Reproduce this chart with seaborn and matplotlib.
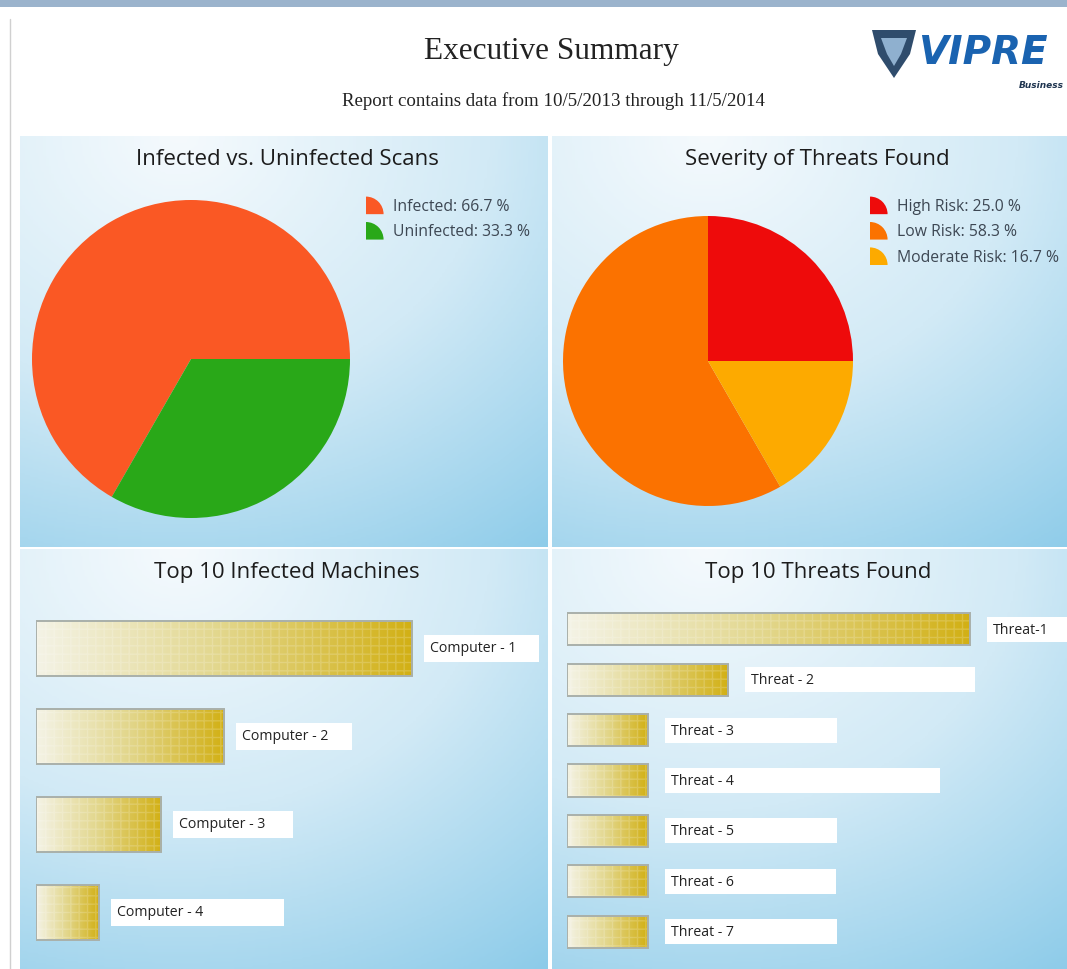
import numpy as np
import matplotlib
matplotlib.use("Agg")
import matplotlib.pyplot as plt
import seaborn as sns
from matplotlib.patches import Wedge, Rectangle, Polygon
from matplotlib.legend_handler import HandlerPatch
from matplotlib.colors import LinearSegmentedColormap

# ---- data ----
scan_labels = ["Infected", "Uninfected"]
scan_pct = [66.7, 33.3]
scan_colors = ["#fa5824", "#29a818"]

severity_labels = ["High Risk", "Low Risk", "Moderate Risk"]
severity_pct = [25.0, 58.3, 16.7]
severity_colors = ["#ee0b0b", "#fb7200", "#fdaa00"]

machine_names = ["Computer - 1", "Computer - 2", "Computer - 3", "Computer - 4"]
machine_counts = [6, 3, 2, 1]

threat_names = ["Threat-1", "Threat - 2", "Threat - 3", "Threat - 4",
                "Threat - 5", "Threat - 6", "Threat - 7"]
threat_counts = [5, 2, 1, 1, 1, 1, 1]

# white label strips behind the names (pixel widths, as in the screenshot)
machine_box_w = [115, 116, 120, 173]
threat_box_w = [95, 230, 172, 275, 172, 171, 172]

sns.set_style("white")
plt.rcParams["font.family"] = ["Open Sans", "DejaVu Sans"]

W, H = 1067, 970
fig = plt.figure(figsize=(W / 100, H / 100), dpi=100)
fig.patch.set_facecolor("white")


def px_axes(x0, y0, x1, y1):
    return fig.add_axes([x0 / W, 1 - y1 / H, (x1 - x0) / W, (y1 - y0) / H])


bg_cmap = LinearSegmentedColormap.from_list("bg", ["#f5fafd", "#d2eaf6", "#8ccbe9"])
bar_cmap = LinearSegmentedColormap.from_list("bar", ["#f4f3e6", "#e2d68a", "#d2b014"])


def panel(x0, y0, x1, y1, title, title_x):
    ax = px_axes(x0, y0, x1, y1)
    w, h = x1 - x0, y1 - y0
    yy, xx = np.mgrid[0:1:200j, 0:1:200j]
    d = np.sqrt(((xx - 0.3) * w / 500) ** 2 + (yy * h / 420) ** 2)
    grad = np.clip(d / 1.25, 0, 1)
    ax.imshow(grad, cmap=bg_cmap, extent=(0, w, 0, h), aspect="auto",
              origin="upper", zorder=0, vmin=0, vmax=1)
    ax.text(title_x - x0, h - 23, title, ha="center", va="center",
            fontsize=16, color="#1c1c1c")
    ax.set_xlim(0, w)
    ax.set_ylim(0, h)
    ax.axis("off")
    return ax


class HandlerQuarter(HandlerPatch):
    def create_artists(self, legend, orig_handle, xdescent, ydescent,
                       width, height, fontsize, trans):
        r = height * 1.6
        wdg = Wedge((-xdescent, -ydescent - 3), r, 0, 90,
                    facecolor=orig_handle.get_facecolor(), edgecolor="none",
                    transform=trans)
        return [wdg]


def pie_panel(x0, y0, x1, y1, title, title_x, values, labels, colors,
              cx, cy, r, leg_x, leg_y):
    ax = panel(x0, y0, x1, y1, title, title_x)
    h = y1 - y0
    wedges, _ = ax.pie(values, colors=colors, startangle=0, counterclock=True,
                       center=(cx - x0, y1 - cy), radius=r,
                       wedgeprops=dict(linewidth=0))
    ax.set_aspect("auto")
    ax.set_xlim(0, x1 - x0)
    ax.set_ylim(0, h)
    ax.legend(wedges, [f"{l}: {v:.1f} %" for l, v in zip(labels, values)],
              loc="upper left", bbox_to_anchor=(leg_x / W, 1 - leg_y / H),
              bbox_transform=fig.transFigure, frameon=False,
              handler_map={Wedge: HandlerQuarter()}, handlelength=1.2,
              handletextpad=0.5, labelspacing=0.6, fontsize=11.3,
              labelcolor="#3d4753", borderpad=0, borderaxespad=0)
    return ax


def bar_panel(x0, y0, x1, y1, title, title_x, names, counts, box_w,
              bx0, by0, bx1, by1, ppu, bar_w, gap, box_h):
    panel(x0, y0, x1, y1, title, title_x)
    ax = px_axes(bx0, by0, bx1, by1)
    sns.barplot(x=counts, y=names, orient="h", ax=ax, width=bar_w,
                color="#d2b014", edgecolor="#a9b0aa", linewidth=1.4)
    xmax = (bx1 - bx0) / ppu
    n = len(names)
    grad = np.linspace(0, 1, 256)[None, :]
    for p in list(ax.patches):
        bx, by = p.get_x(), p.get_y()
        bw, bh = p.get_width(), p.get_height()
        p.set_facecolor("none")
        p.set_zorder(3)
        im = ax.imshow(grad, cmap=bar_cmap, extent=(bx, bx + bw, by + bh, by),
                       aspect="auto", zorder=2, interpolation="bilinear")
        im.set_clip_path(p)
        hat = Rectangle((bx, by), bw, bh, facecolor="none", edgecolor="#ffffff",
                        hatch="++", linewidth=0, alpha=0.18, zorder=2.5)
        ax.add_patch(hat)
    slot = (by1 - by0) / n
    for i, (name, val) in enumerate(zip(names, counts)):
        xs = val + gap / ppu
        bh = box_h / slot
        ax.add_patch(Rectangle((xs, i - bh / 2), box_w[i] / ppu, bh,
                               facecolor="white", edgecolor="none", zorder=4,
                               clip_on=False))
        ax.text(xs + 6 / ppu, i, name, ha="left", va="center", fontsize=10.2,
                color="#222222", zorder=5)
    ax.set_xlim(0, xmax)
    ax.set_ylim(n - 0.5, -0.5)
    ax.set_facecolor("none")
    ax.axis("off")
    return ax


# ---- header ----
fig.patches.append(Rectangle((0, 1 - 8 / H), 1, 8 / H, transform=fig.transFigure,
                             facecolor="#9bb3cc", edgecolor="none"))
fig.lines.append(plt.Line2D([10 / W, 10 / W], [0, 1 - 20 / H], transform=fig.transFigure,
                            color="#d0d0d0", linewidth=1))
fig.text(551 / W, 1 - 52 / H, "Executive Summary", ha="center", va="center",
         fontsize=22.5, family="Liberation Serif", color="#222222")
fig.text(553 / W, 1 - 101 / H, "Report contains data from 10/5/2013 through 11/5/2014",
         ha="center", va="center", fontsize=13.6, family="Liberation Serif",
         color="#222222")
# logo
shield = [(872, 31), (916, 31), (910, 55), (894, 79), (878, 55)]
inner = [(881, 39), (907, 39), (901, 55), (894, 67), (887, 55)]
fig.patches.append(Polygon([(x / W, 1 - y / H) for x, y in shield], closed=True,
                           transform=fig.transFigure, facecolor="#2f4c6c",
                           edgecolor="none"))
fig.patches.append(Polygon([(x / W, 1 - y / H) for x, y in inner], closed=True,
                           transform=fig.transFigure, facecolor="#8fb0cf",
                           edgecolor="none"))
fig.text(918 / W, 1 - 53 / H, "VIPRE", ha="left", va="center", fontsize=28,
         fontweight="bold", style="italic", family="DejaVu Sans", color="#1a63b0")
fig.text(1041 / W, 1 - 85 / H, "Business", ha="center", va="center", fontsize=6.5,
         fontweight="bold", style="italic", family="DejaVu Sans", color="#1f3550")

# ---- pies ----
pie_panel(20, 137, 548, 548, "Infected vs. Uninfected Scans", 287,
          scan_pct, scan_labels, scan_colors, 191, 360, 159, 366, 199)
pie_panel(552, 137, 1067, 548, "Severity of Threats Found", 817,
          severity_pct, severity_labels, severity_colors, 708, 362, 145, 870, 199)

# ---- bars ----
bar_panel(20, 550, 548, 970, "Top 10 Infected Machines", 287,
          machine_names, machine_counts, machine_box_w,
          36, 605, 548, 957, 62.7, 0.625, 12, 27)
bar_panel(552, 550, 1067, 970, "Top 10 Threats Found", 818,
          threat_names, threat_counts, threat_box_w,
          567, 605, 1067, 958, 80.6, 0.64, 17, 25)

fig.savefig("out.png", dpi=100, facecolor="white")
